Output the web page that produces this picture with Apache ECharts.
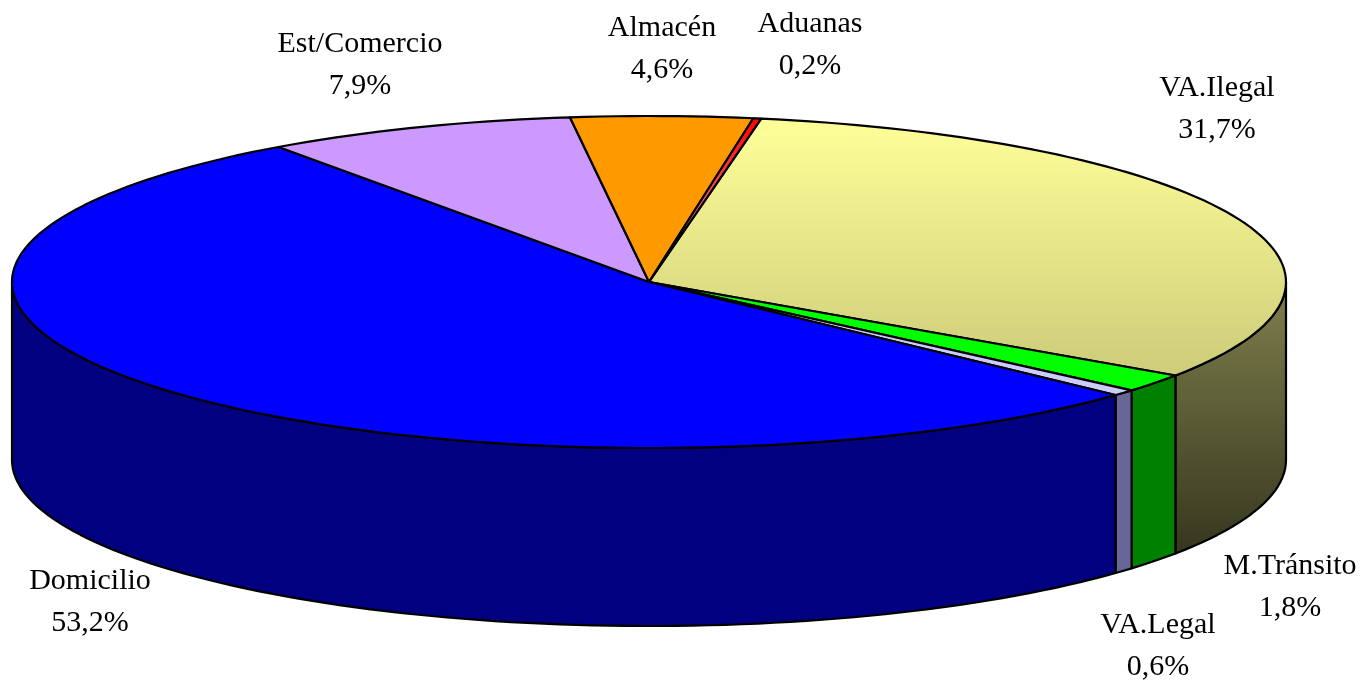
<!DOCTYPE html>
<html>
<head>
<meta charset="utf-8">
<title>Pie</title>
<style>
  html, body { margin: 0; padding: 0; background: #fff; }
  #main { width: 1363px; height: 682px; }
</style>
<script src="https://cdn.jsdelivr.net/npm/echarts@6/dist/echarts.min.js"></script>
</head>
<body>
<div id="main"></div>
<script>
var categories = ['VA.Ilegal', 'M.Tránsito', 'VA.Legal', 'Domicilio', 'Est/Comercio', 'Almacén', 'Aduanas'];
var shares = [31.7, 1.8, 0.6, 53.2, 7.9, 4.6, 0.2];

var topColors = [['#ffff99', '#cccc7a'], ['#00ff00'], ['#ccccff'], ['#0000ff'], ['#cc99ff'], ['#ff9900'], ['#ff0000', '#ffb0b0']];
var sideColors = [['#80804d', '#36361f'], ['#008000'], ['#666699'], ['#000080'], ['#663399'], ['#804d00'], ['#800000']];

// where each label is centred
var labelX = [1217, 1290, 1158, 90, 360, 662, 810];
var labelY = [109, 587, 646, 602, 65, 49, 45];

// the tilted disc
var cx = 649, cy = 282, rx = 637, ry = 166, depth = 178;
var startAngle = 10.15;

var total = shares.reduce(function (a, b) { return a + b; }, 0);

// angle is clockwise from 12 o'clock
function rim(angle, drop) {
  var r = angle * Math.PI / 180;
  return [cx + rx * Math.sin(r), cy - ry * Math.cos(r) + drop];
}

function sliceRange(index) {
  var before = 0;
  for (var i = 0; i < index; i++) before += shares[i];
  return [
    startAngle + before / total * 360,
    startAngle + (before + shares[index]) / total * 360
  ];
}

function arcPoints(a0, a1, drop) {
  var pts = [];
  var n = Math.max(2, Math.ceil(Math.abs(a1 - a0) / 1.5));
  for (var i = 0; i <= n; i++) {
    pts.push(rim(a0 + (a1 - a0) * i / n, drop));
  }
  return pts;
}

function paint(colors) {
  if (colors.length === 1) return colors[0];
  return new echarts.graphic.LinearGradient(0, 0, 0, 1, [
    { offset: 0, color: colors[0] },
    { offset: 1, color: colors[1] }
  ]);
}

function renderSide(params) {
  var range = sliceRange(params.dataIndex);
  // only the front half of the wall can be seen
  var a0 = Math.max(range[0], 90);
  var a1 = Math.min(range[1], 270);
  if (a1 <= a0) return null;
  var pts = arcPoints(a0, a1, 0).concat(arcPoints(a1, a0, depth));
  return {
    type: 'polygon',
    shape: { points: pts },
    style: {
      fill: paint(sideColors[params.dataIndex]),
      stroke: '#000',
      lineWidth: 2.2,
      lineJoin: 'round'
    }
  };
}

function renderTop(params) {
  var range = sliceRange(params.dataIndex);
  var pts = [[cx, cy]].concat(arcPoints(range[0], range[1], 0));
  return {
    type: 'polygon',
    shape: { points: pts },
    style: {
      fill: paint(topColors[params.dataIndex]),
      stroke: '#000',
      lineWidth: 2.2,
      lineJoin: 'round'
    }
  };
}

function renderLabel(params, api) {
  var i = params.dataIndex;
  return {
    type: 'text',
    x: labelX[i],
    y: labelY[i],
    style: {
      text: categories[i] + '\n' + api.value(0).toFixed(1).replace('.', ',') + '%',
      font: '30px "Liberation Serif"',
      lineHeight: 42,
      fill: '#000',
      align: 'center',
      verticalAlign: 'middle'
    }
  };
}

var chart = echarts.init(document.getElementById('main'));
chart.setOption({
  animation: false,
  backgroundColor: '#fff',
  series: [
    { type: 'custom', coordinateSystem: 'none', silent: true, clip: false, data: shares, renderItem: renderSide, z: 1 },
    { type: 'custom', coordinateSystem: 'none', silent: true, clip: false, data: shares, renderItem: renderTop, z: 2 },
    { type: 'custom', coordinateSystem: 'none', silent: true, clip: false, data: shares, renderItem: renderLabel, z: 3 }
  ]
});
</script>
</body>
</html>
